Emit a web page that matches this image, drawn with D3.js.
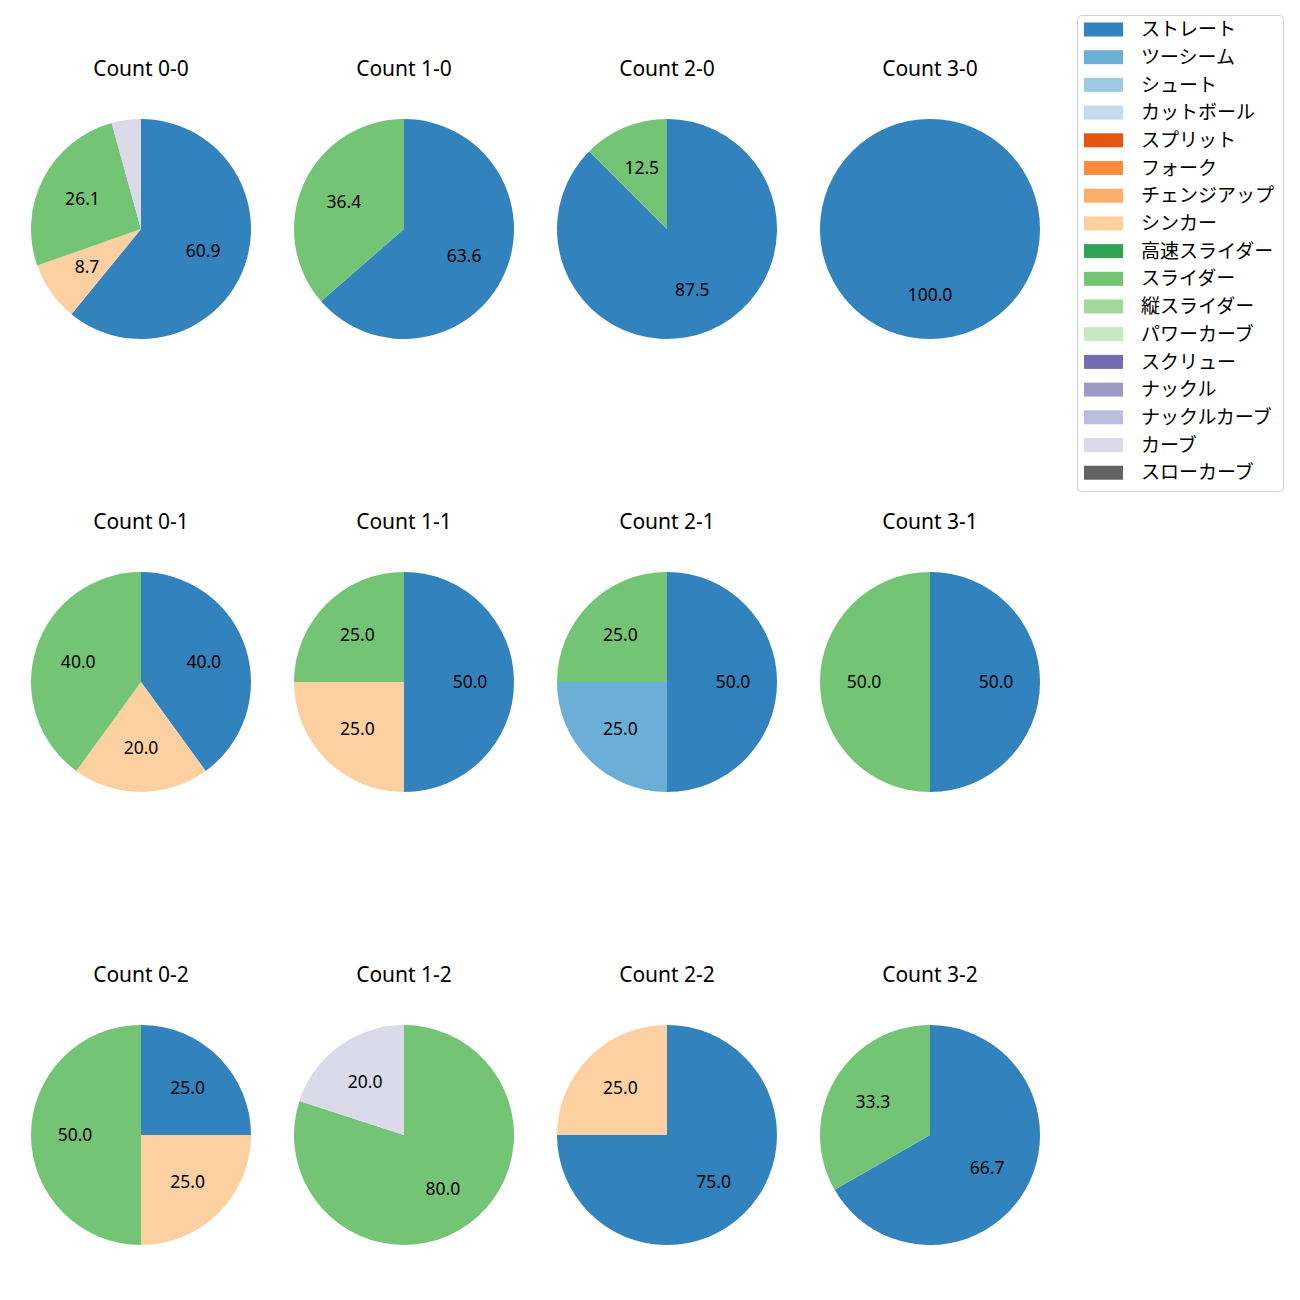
<!DOCTYPE html>
<html>
<head>
<meta charset="utf-8">
<script src="https://cdn.jsdelivr.net/npm/d3@7"></script>
<style>
  body { margin: 0; background: #fff; }
  svg text { font-family: "Noto Sans", "Noto Sans CJK JP", sans-serif; }
  svg .legend text { font-family: "Noto Sans CJK JP", sans-serif; }
</style>
</head>
<body>
<div id="chart"></div>
<script>
// pitch types, in legend order
var pitchTypes = ["ストレート", "ツーシーム", "シュート", "カットボール", "スプリット", "フォーク",
  "チェンジアップ", "シンカー", "高速スライダー", "スライダー", "縦スライダー", "パワーカーブ",
  "スクリュー", "ナックル", "ナックルカーブ", "カーブ", "スローカーブ"];
var pitchColors = ["#3182bd", "#6baed6", "#9ecae1", "#c6dbef", "#e6550d", "#fd8d3c",
  "#fdae6b", "#fdd0a2", "#31a354", "#74c476", "#a1d99b", "#c7e9c0",
  "#756bb1", "#9e9ac8", "#bcbddc", "#dadaeb", "#636363"];

// counts (balls-strikes), row by row
var countLabels = ["0-0", "1-0", "2-0", "3-0", "0-1", "1-1", "2-1", "3-1", "0-2", "1-2", "2-2", "3-2"];

// share per pitch type for each count (percent)
var countShares = [
  {"ストレート": 60.9, "シンカー": 8.7, "スライダー": 26.1, "カーブ": 4.3},
  {"ストレート": 63.6, "スライダー": 36.4},
  {"ストレート": 87.5, "スライダー": 12.5},
  {"ストレート": 100},
  {"ストレート": 40, "シンカー": 20, "スライダー": 40},
  {"ストレート": 50, "シンカー": 25, "スライダー": 25},
  {"ストレート": 50, "ツーシーム": 25, "スライダー": 25},
  {"ストレート": 50, "スライダー": 50},
  {"ストレート": 25, "シンカー": 25, "スライダー": 50},
  {"スライダー": 80, "カーブ": 20},
  {"ストレート": 75, "シンカー": 25},
  {"ストレート": 66.7, "スライダー": 33.3}
];

var svg = d3.select("#chart").append("svg")
  .attr("width", 1300)
  .attr("height", 1300);

var color = d3.scaleOrdinal().domain(pitchTypes).range(pitchColors);

var colX = d3.scalePoint().domain([0, 1, 2, 3]).range([141, 930]);
var rowY = d3.scalePoint().domain([0, 1, 2]).range([229, 1135]);
var r = 110;

// clockwise from 12 o'clock, like matplotlib counterclock=False, startangle=90
var pie = d3.pie().sort(null).value(d => d.value);
var arc = d3.arc().innerRadius(0).outerRadius(r);
var labelArc = d3.arc().innerRadius(r * 0.6).outerRadius(r * 0.6);

countLabels.forEach(function(c, i) {
  var cx = colX(i % 4), cy = rowY(Math.floor(i / 4));
  var data = pitchTypes.filter(p => countShares[i][p] != null)
    .map(p => ({type: p, value: countShares[i][p]}));

  var g = svg.append("g").attr("transform", "translate(" + cx + "," + cy + ")");

  g.append("text")
    .attr("y", -153)
    .attr("text-anchor", "middle")
    .attr("font-size", 21)
    .attr("fill", "#000")
    .text("Count " + c);

  var arcs = pie(data);
  g.selectAll("path").data(arcs).enter().append("path")
    .attr("d", arc)
    .attr("fill", d => color(d.data.type));

  g.selectAll("text.pct").data(arcs.filter(d => d.data.value >= 5)).enter().append("text")
    .attr("class", "pct")
    .attr("transform", d => "translate(" + labelArc.centroid(d) + ")")
    .attr("text-anchor", "middle")
    .attr("dy", "0.35em")
    .attr("font-size", 17.5)
    .attr("fill", "#000")
    .text(d => d.data.value.toFixed(1));
});

// legend
var legend = svg.append("g").attr("class", "legend").attr("transform", "translate(1077,15)");
legend.append("rect")
  .attr("x", 0.5).attr("y", 0.5)
  .attr("width", 206).attr("height", 476)
  .attr("rx", 4)
  .attr("fill", "#fff")
  .attr("stroke", "#d0d0d0");

var legY = d3.scalePoint().domain(pitchTypes).range([14.5, 457.7]);

var items = legend.selectAll("g.item").data(pitchTypes).enter().append("g")
  .attr("class", "item")
  .attr("transform", d => "translate(0," + legY(d) + ")");

items.append("rect")
  .attr("x", 7).attr("y", -7)
  .attr("width", 39).attr("height", 14)
  .attr("fill", d => color(d));

items.append("text")
  .attr("x", 64)
  .attr("dy", "0.35em")
  .attr("font-size", 19)
  .attr("fill", "#000")
  .text(d => d);
</script>
</body>
</html>
